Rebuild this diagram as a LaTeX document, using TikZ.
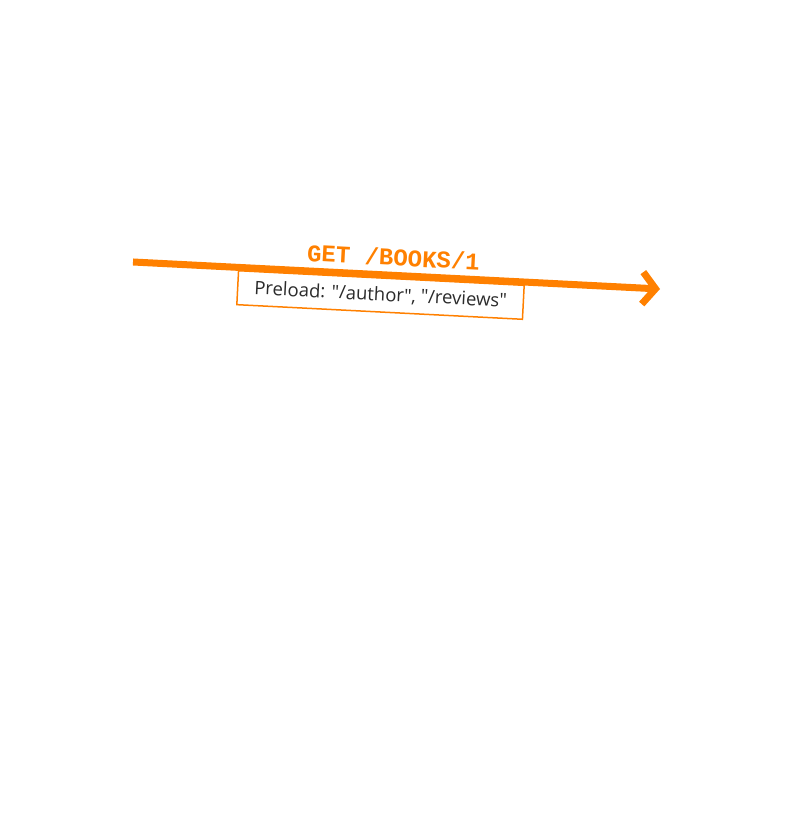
\documentclass[tikz,border=0pt]{standalone}
\usepackage{fontspec}
\setmainfont{Open Sans}
\newfontfamily\monobold{Liberation Mono}
\usetikzlibrary{arrows.meta}
\definecolor{orng}{HTML}{FF8000}
\definecolor{txtgray}{HTML}{2B2B2B}
\tikzset{
  flow/.style={draw=orng, line width=7pt, -{Straight Barb[length=13pt,width=32pt,line width=7pt]}},
  labelbox/.style={draw=orng, line width=1.5pt, fill=white, minimum width=286pt, minimum height=34pt, inner sep=0pt, text=txtgray, font=\fontsize{18.5}{22}\selectfont, rotate=-2.93},
  reqtext/.style={text=orng, font=\monobold\bfseries\fontsize{24}{28}\selectfont, rotate=-2.93, inner sep=0pt}
}
\begin{document}
\begin{tikzpicture}[x=1pt,y=1pt]
\useasboundingbox (0,0) rectangle (800,821);
\coordinate (start) at (133,559);
\coordinate (finish) at (660,532);
\node[labelbox] (box) at (380.5,526) {Preload: \textquotedbl/author\textquotedbl, \textquotedbl/reviews\textquotedbl};
\draw[flow] (start) -- (finish);
\node[reqtext] (req) at (393.5,564) {GET /BOOKS/1};
\end{tikzpicture}
\end{document}
